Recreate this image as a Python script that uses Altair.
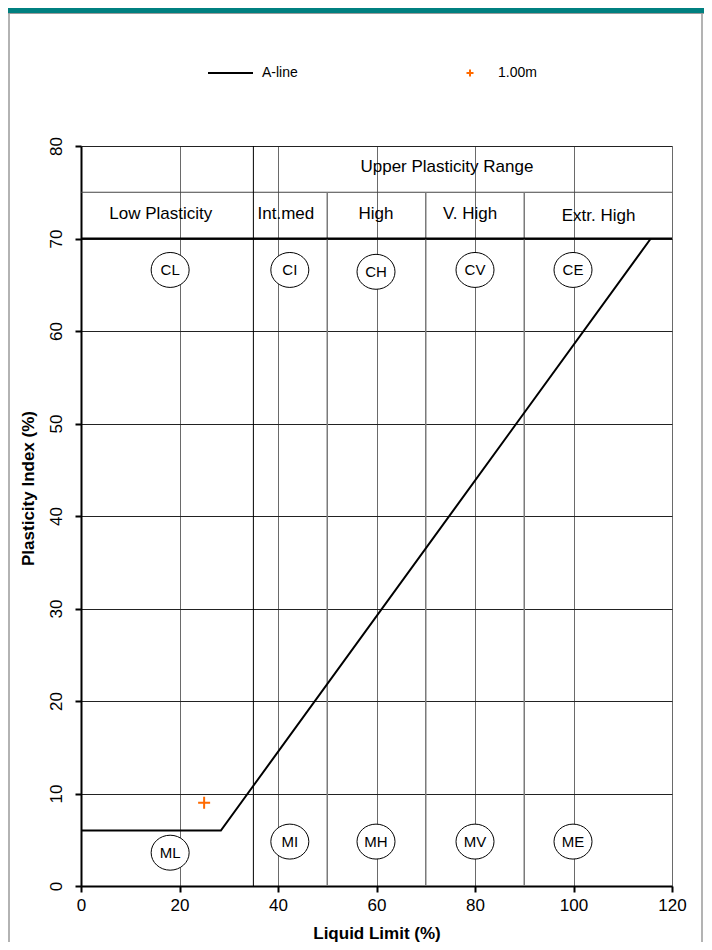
import altair as alt
import pandas as pd

FONT = "Liberation Sans"

# ---------------- data ----------------
ll_ticks = [0, 20, 40, 60, 80, 100, 120]
pi_ticks = [0, 10, 20, 30, 40, 50, 60, 70, 80]

aline_ll = [0.0, 28.4, 115.7]
aline_pi = [6.0, 6.0, 70.0]

sample_labels = ["1.00m"]
sample_ll = [25.0]
sample_pi = [9.0]

zone_codes = ["CL", "CI", "CH", "CV", "CE", "ML", "MI", "MH", "MV", "ME"]
zone_ll = [18.1, 42.4, 59.9, 80.0, 99.9, 18.1, 42.4, 59.9, 80.0, 99.9]
zone_pi = [66.6, 66.6, 66.4, 66.6, 66.6, 3.6, 4.8, 4.8, 4.8, 4.8]

range_labels = ["Low Plasticity", "Int.med", "High", "V. High", "Extr. High"]
range_ll = [16.2, 41.6, 59.9, 79.0, 105.1]
range_pi = [72.6, 72.6, 72.6, 72.6, 72.4]

upper_label = ["Upper Plasticity Range"]
upper_ll = [74.3]
upper_pi = [77.7]

main_boundary_ll = [35]
main_boundary_top = [80]
sub_boundary_ll = [50, 70, 90]
sub_boundary_top = [75, 75, 75]

row_line_75 = [75]
row_line_70 = [70]
row_from = [0]
row_to = [120]

legend_labels = ["A-line", "1.00m"]

# ---------------- tables ----------------
aline_df = pd.DataFrame({"LL": aline_ll, "PI": aline_pi})
sample_df = pd.DataFrame({"LL": sample_ll, "PI": sample_pi, "name": sample_labels})
zone_df = pd.DataFrame({"LL": zone_ll, "PI": zone_pi, "code": zone_codes})
range_df = pd.DataFrame({"LL": range_ll, "PI": range_pi, "label": range_labels})
upper_df = pd.DataFrame({"LL": upper_ll, "PI": upper_pi, "label": upper_label})
main_b_df = pd.DataFrame({"LL": main_boundary_ll, "top": main_boundary_top, "bottom": [0]})
sub_b_df = pd.DataFrame({"LL": sub_boundary_ll, "top": sub_boundary_top, "bottom": [0, 0, 0]})
r75_df = pd.DataFrame({"PI": row_line_75, "x1": row_from, "x2": row_to})
r70_df = pd.DataFrame({"PI": row_line_70, "x1": row_from, "x2": row_to})
one = pd.DataFrame({"a": [0]})

xscale = alt.Scale(domain=[0, 120], nice=False, zero=False)
yscale = alt.Scale(domain=[0, 80], nice=False, zero=False)

xaxis = alt.Axis(values=ll_ticks, title="Liquid Limit (%)", grid=True,
                 gridColor="#6a6a6a", gridWidth=1, labelFlush=False,
                 labelFont=FONT, labelFontSize=17, labelColor="#000",
                 labelPadding=5, titleFont=FONT, titleFontSize=17,
                 titleFontWeight="bold", titleColor="#000", titlePadding=12,
                 domainColor="#000", domainWidth=2, tickColor="#000",
                 tickSize=6, tickWidth=2)
yaxis = alt.Axis(values=pi_ticks, title="Plasticity Index (%)", grid=True,
                 gridColor="#222222", gridWidth=1, labelFlush=False,
                 labelFont=FONT, labelFontSize=17, labelColor="#000",
                 labelAngle=270, labelPadding=10,
                 titleFont=FONT, titleFontSize=17, titleFontWeight="bold",
                 titleColor="#000", titleX=-44, titleY=342,
                 domainColor="#000", domainWidth=2, tickColor="#000",
                 tickSize=6, tickWidth=2)

X = lambda f: alt.X(f, type="quantitative", scale=xscale, axis=xaxis)
Y = lambda f: alt.Y(f, type="quantitative", scale=yscale, axis=yaxis)

aline = alt.Chart(aline_df).mark_line(color="#000", strokeWidth=2).encode(
    x=X("LL"), y=Y("PI"))

r75 = alt.Chart(r75_df).mark_rule(color="#444", strokeWidth=1).encode(
    x=X("x1"), x2="x2", y=Y("PI"))
r70 = alt.Chart(r70_df).mark_rule(color="#000", strokeWidth=2).encode(
    x=X("x1"), x2="x2", y=Y("PI"))

main_b = alt.Chart(main_b_df).mark_rule(color="#000", strokeWidth=1).encode(
    x=X("LL"), y=Y("bottom"), y2="top")
sub_b = alt.Chart(sub_b_df).mark_rule(color="#7a7a7a", strokeWidth=1.5).encode(
    x=X("LL"), y=Y("bottom"), y2="top")

ellipse_path = "M-1,0A1,0.92,0,1,1,1,0A1,0.92,0,1,1,-1,0Z"
ellipses = alt.Chart(zone_df).mark_point(
    shape=ellipse_path, size=1444, filled=True, fill="white", stroke="#000",
    strokeWidth=1, opacity=1).encode(x=X("LL"), y=Y("PI"))
zone_text = alt.Chart(zone_df).mark_text(
    font=FONT, fontSize=15, color="#000", align="center", baseline="middle").encode(
    x=X("LL"), y=Y("PI"), text="code")

range_text = alt.Chart(range_df).mark_text(
    font=FONT, fontSize=17, color="#000", align="center", baseline="middle").encode(
    x=X("LL"), y=Y("PI"), text="label")
upper_text = alt.Chart(upper_df).mark_text(
    font=FONT, fontSize=17, color="#000", align="center", baseline="middle").encode(
    x=X("LL"), y=Y("PI"), text="label")

plus_path = "M-1,0L1,0M0,-1L0,1"
sample = alt.Chart(sample_df).mark_point(
    shape=plus_path, size=144, filled=False, stroke="#FF6A00", strokeWidth=2,
    opacity=1).encode(x=X("LL"), y=Y("PI"))

# manual legend (above plot)
leg_line = alt.Chart(one).mark_rule(color="#000", strokeWidth=2).encode(
    x=alt.value(127), x2=alt.value(172), y=alt.value(-73))
leg_t1 = alt.Chart(one).mark_text(font=FONT, fontSize=14, align="left",
                                  baseline="middle", color="#000",
                                  text=legend_labels[0]).encode(
    x=alt.value(181), y=alt.value(-73))
leg_plus = alt.Chart(one).mark_point(shape=plus_path, size=49, filled=False,
                                     stroke="#FF6A00", strokeWidth=2, opacity=1).encode(
    x=alt.value(389), y=alt.value(-73))
leg_t2 = alt.Chart(one).mark_text(font=FONT, fontSize=14, align="left",
                                  baseline="middle", color="#000",
                                  text=legend_labels[1]).encode(
    x=alt.value(417), y=alt.value(-73))

# page frame decoration
teal = alt.Chart(one).mark_rect(color="#008080").encode(
    x=alt.value(-73), x2=alt.value(623), y=alt.value(-138), y2=alt.value(-133))
topline = alt.Chart(one).mark_rule(color="#9a9a9a", strokeWidth=1).encode(
    x=alt.value(-73), x2=alt.value(623), y=alt.value(-132.5))
leftb = alt.Chart(one).mark_rule(color="#9a9a9a", strokeWidth=1.5).encode(
    x=alt.value(-72), y=alt.value(-133), y2=alt.value(796))
rightb = alt.Chart(one).mark_rule(color="#9a9a9a", strokeWidth=1.5).encode(
    x=alt.value(621), y=alt.value(-133), y2=alt.value(796))

chart = alt.layer(
    r75, main_b, sub_b, r70, aline, ellipses, zone_text, range_text,
    upper_text, sample, leg_line, leg_t1, leg_plus, leg_t2,
    teal, topline, leftb, rightb
).properties(
    width=591, height=740,
    autosize=alt.AutoSizeParams(type="none"),
    padding={"left": 73, "top": 138, "right": 32, "bottom": 56},
).configure_view(stroke="#000", strokeWidth=2).configure(background="white")

chart.save("out.html", embed_options={"renderer": "svg", "actions": False})
